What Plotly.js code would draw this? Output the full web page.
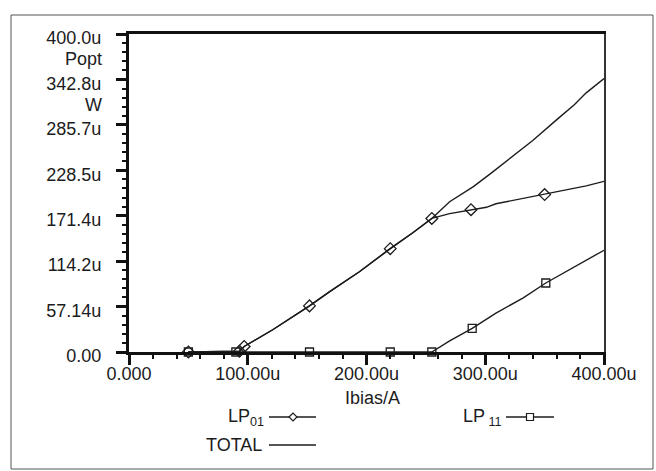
<!DOCTYPE html>
<html>
<head>
<meta charset="utf-8">
<script src="https://cdn.plot.ly/plotly-3.0.1.min.js"></script>
<style>html,body{margin:0;padding:0;background:#fff;}#chart{width:656px;height:471px;}</style>
</head>
<body>
<div id="chart"></div>
<script>
// ---- data (Ibias in uA, Popt in uW) ----
const lp01X = [50, 89, 93, 97, 121, 152, 169, 194, 220, 239, 255, 270, 288, 301, 309, 326, 350, 365, 385, 400];
const lp01Y = [0, 0.3, 1, 7, 28, 58, 76, 101, 130, 150, 168, 174, 179, 182, 186.5, 191.6, 198, 203, 209, 214.6];
const lp01MarkX = [50, 93, 97, 152, 220, 255, 288, 350];
const lp01MarkY = [0, 1, 7, 58, 130, 168, 179, 198];

const lp11X = [50, 90, 152, 220, 255, 270, 289, 309, 332, 351, 371, 385, 400];
const lp11Y = [0, 0, 0, 0, 0, 14, 29.7, 49, 68, 86.8, 103.5, 114.8, 128];
const lp11MarkX = [50, 90, 152, 220, 255, 289, 351];
const lp11MarkY = [0, 0, 0, 0, 0, 29.7, 86.8];

const totalX = [50, 89, 93, 97, 121, 152, 169, 194, 220, 239, 255, 270, 290, 305, 323, 340, 360, 375, 385, 400];
const totalY = [0, 0.3, 1, 7, 28, 58, 76, 101, 130, 150, 168, 189, 208, 225, 246, 266, 292, 311, 326, 344];

const xTickVals = [0, 100, 200, 300, 400];
const xTickText = ['0.000', '100.00u', '200.00u', '300.00u', '400.00u'];
const yTickVals = [0, 400/7, 800/7, 1200/7, 1600/7, 2000/7, 2400/7, 400];
const yTickText = ['0.00', '57.14u', '114.2u', '171.4u', '228.5u', '285.7u', '342.8u', '400.0u'];

// ---- layout geometry ----
const W = 656, H = 471;
const M = {l: 129, r: 52, t: 34, b: 119};
const PW = W - M.l - M.r, PH = H - M.t - M.b;
const fx = p => (p - M.l) / PW;          // pixel -> paper x
const fy = p => (H - M.b - p) / PH;      // pixel -> paper y

const INK = '#1c1c1c';
const FONT = 'Liberation Sans, Arial, sans-serif';

const traces = [
  {x: totalX, y: totalY, mode: 'lines', line: {color: INK, width: 1.4}, showlegend: false, hoverinfo: 'skip'},
  {x: lp01X, y: lp01Y, mode: 'lines', line: {color: INK, width: 1.4}, showlegend: false, hoverinfo: 'skip'},
  {x: lp11X, y: lp11Y, mode: 'lines', line: {color: INK, width: 1.4}, showlegend: false, hoverinfo: 'skip'},
  {x: lp01MarkX, y: lp01MarkY, mode: 'markers', cliponaxis: false,
   marker: {symbol: 'diamond-open', size: 9, color: INK, line: {width: 1.3, color: INK}}, showlegend: false},
  {x: lp11MarkX, y: lp11MarkY, mode: 'markers', cliponaxis: false,
   marker: {symbol: 'square-open', size: 8, color: INK, line: {width: 1.3, color: INK}}, showlegend: false}
];

// legend drawn by hand (label left, sample right)
const legY1 = 417, legY2 = 445;
const shapes = [
  // outer frame
  {type: 'rect', xref: 'paper', yref: 'paper', x0: fx(11), x1: fx(653), y0: fy(15), y1: fy(469),
   line: {color: '#555', width: 1}},
  // legend sample lines
  {type: 'line', xref: 'paper', yref: 'paper', x0: fx(269), x1: fx(316), y0: fy(legY1), y1: fy(legY1), line: {color: INK, width: 1.5}},
  {type: 'line', xref: 'paper', yref: 'paper', x0: fx(269), x1: fx(316), y0: fy(legY2), y1: fy(legY2), line: {color: INK, width: 1.5}},
  {type: 'line', xref: 'paper', yref: 'paper', x0: fx(506), x1: fx(554), y0: fy(legY1), y1: fy(legY1), line: {color: INK, width: 1.5}},
  // legend diamond
  {type: 'path', xref: 'paper', yref: 'paper',
   path: `M ${fx(293-4)} ${fy(legY1)} L ${fx(293)} ${fy(legY1-4)} L ${fx(293+4)} ${fy(legY1)} L ${fx(293)} ${fy(legY1+4)} Z`,
   fillcolor: '#fff', line: {color: INK, width: 1.2}},
  // legend square
  {type: 'rect', xref: 'paper', yref: 'paper', x0: fx(530-3.5), x1: fx(530+3.5), y0: fy(legY1+3.5), y1: fy(legY1-3.5),
   fillcolor: '#fff', line: {color: INK, width: 1.2}}
];

const annFont = {family: FONT, size: 18, color: INK};
const annotations = [
  {text: 'Popt', xref: 'paper', yref: 'paper', x: fx(104), y: fy(59), xanchor: 'right', yanchor: 'middle', showarrow: false, font: annFont},
  {text: 'W', xref: 'paper', yref: 'paper', x: fx(104), y: fy(105), xanchor: 'right', yanchor: 'middle', showarrow: false, font: annFont},
  {text: 'Ibias/A', xref: 'paper', yref: 'paper', x: fx(372), y: fy(398), xanchor: 'center', yanchor: 'middle', showarrow: false, font: annFont},
  {text: 'LP<sub>01</sub>', xref: 'paper', yref: 'paper', x: fx(266), y: fy(legY1), xanchor: 'right', yanchor: 'middle', showarrow: false, font: annFont},
  {text: 'TOTAL', xref: 'paper', yref: 'paper', x: fx(264), y: fy(legY2), xanchor: 'right', yanchor: 'middle', showarrow: false, font: annFont},
  {text: 'LP<sub> 11</sub>', xref: 'paper', yref: 'paper', x: fx(504), y: fy(legY1), xanchor: 'right', yanchor: 'middle', showarrow: false, font: annFont}
];

const layout = {
  width: W, height: H,
  margin: M,
  paper_bgcolor: '#fff', plot_bgcolor: '#fff',
  showlegend: false,
  font: {family: FONT, size: 18, color: INK},
  xaxis: {
    range: [0, 400], tickmode: 'array', tickvals: xTickVals, ticktext: xTickText,
    showgrid: false, zeroline: false,
    showline: true, linecolor: '#111', linewidth: 3, mirror: false,
    ticks: 'outside', ticklen: 10, tickwidth: 3, tickcolor: '#111',
    ticklabelstandoff: -7,
    tickfont: {family: FONT, size: 18, color: INK},
    minor: {dtick: 20, ticks: 'outside', ticklen: 4, tickwidth: 2, tickcolor: '#111', showgrid: false}
  },
  yaxis: {
    range: [0, 400], tickmode: 'array', tickvals: yTickVals, ticktext: yTickText,
    showgrid: false, zeroline: false,
    showline: true, linecolor: '#111', linewidth: 3,
    ticks: 'outside', ticklen: 10, tickwidth: 3, tickcolor: '#111',
    ticklabelstandoff: 11, ticklabelshift: 4,
    tickfont: {family: FONT, size: 18, color: INK},
    minor: {dtick: 400/35, ticks: 'outside', ticklen: 4, tickwidth: 2, tickcolor: '#111', showgrid: false}
  },
  xaxis2: {overlaying: 'x', side: 'top', range: [0, 400], showticklabels: false, ticks: '', showgrid: false, zeroline: false,
           showline: true, linecolor: '#111', linewidth: 3},
  yaxis2: {overlaying: 'y', side: 'right', range: [0, 400], showticklabels: false, ticks: '', showgrid: false, zeroline: false,
           showline: true, linecolor: '#333', linewidth: 2},
  shapes: shapes,
  annotations: annotations
};

// empty trace that switches on the top and right frame axes
traces.push({x: [], y: [], xaxis: 'x2', yaxis: 'y2', showlegend: false, hoverinfo: 'skip'});

Plotly.newPlot('chart', traces, layout, {displayModeBar: false, staticPlot: true});
</script>
</body>
</html>
